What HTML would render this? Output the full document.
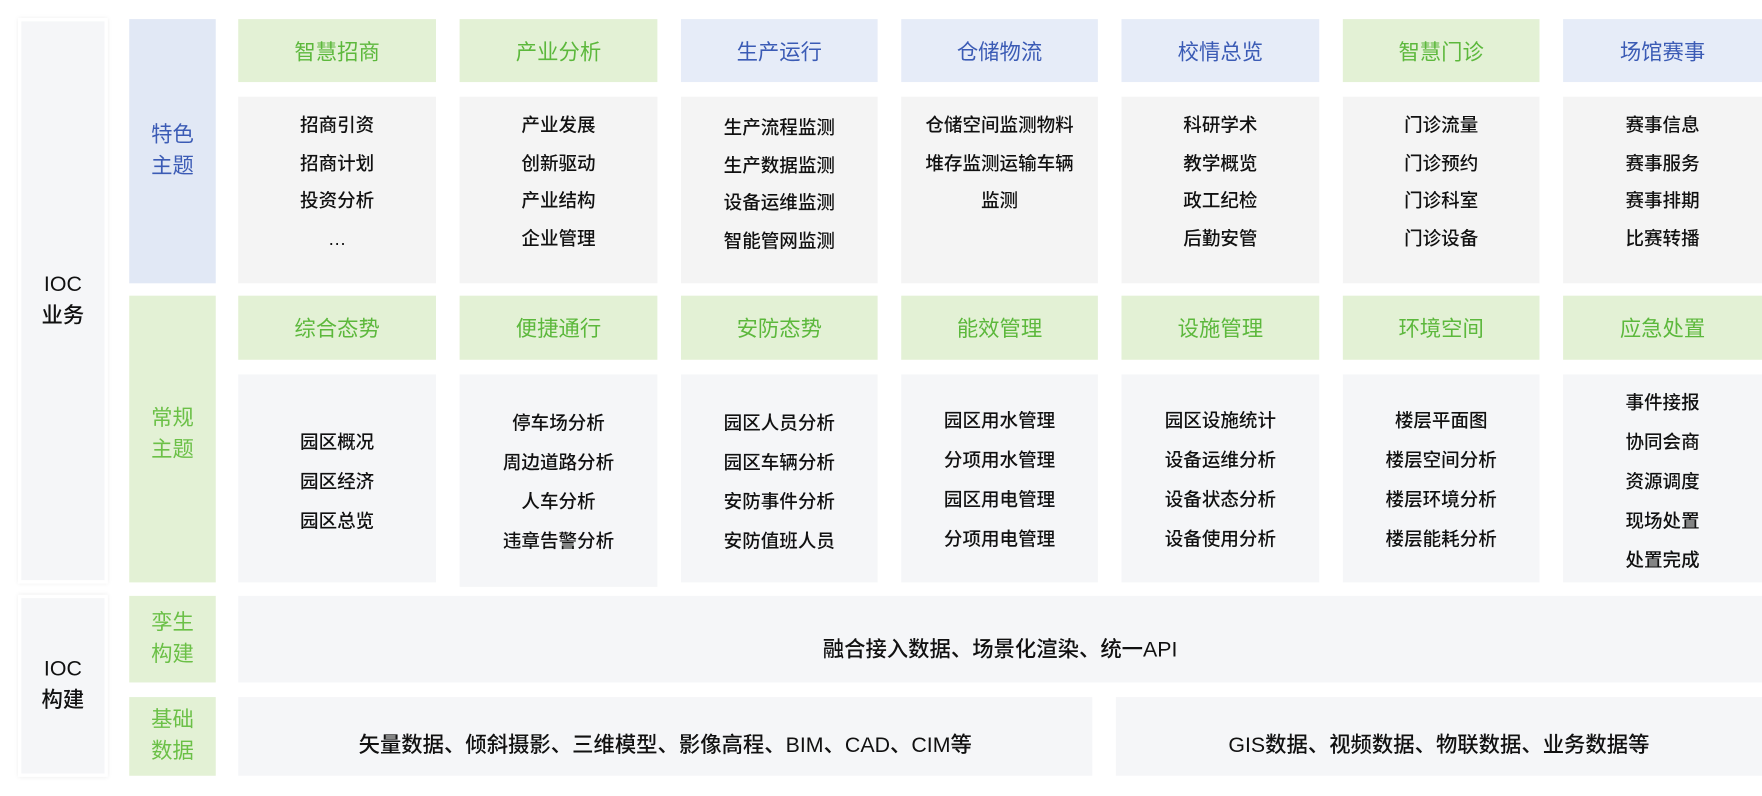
<!DOCTYPE html>
<html><head><meta charset="utf-8"><style>
html,body{margin:0;padding:0;background:#fff;width:1762px;height:796px;overflow:hidden}
#c{position:absolute;left:0;top:0;width:1568px;height:708px;transform:scale(1.12372,1.12429);transform-origin:0 0;font-family:"Liberation Sans","Noto Sans CJK SC",sans-serif}
.b{position:absolute;display:flex;flex-direction:column;align-items:center;justify-content:center;text-align:center;box-sizing:border-box}
.side{background:#f5f6f8;border:3px solid #fff;box-shadow:0 0 4px rgba(0,0,0,.08);font-size:19px;color:#111;line-height:28px;font-weight:500}
.lb{background:#e1e8f5;color:#3b5bb5;font-size:19px;line-height:28px}
.lg{background:#e3f1d5;color:#6bc047;font-size:19px;line-height:28px}
.hb{background:#e6ecf8;color:#3b5bb5;font-size:19px}
.hg{background:#e3f1d5;color:#5cb83c;font-size:19px}
.ct{background:#f4f4f4;color:#111;font-size:16.5px;line-height:33.5px;justify-content:flex-start;padding-top:10px;font-weight:500}
.c2{background:#f5f6f8;color:#111;font-size:16.5px;line-height:35px;font-weight:500}
.big{background:#f5f6f8;color:#111;font-size:19px;font-weight:500}
</style></head><body><div id="c">
<div class="b side" style="left:16px;top:16px;width:80px;height:503px">IOC<br>业务</div>
<div class="b side" style="left:16px;top:529px;width:80px;height:162px">IOC<br>构建</div>
<div class="b lb" style="left:115px;top:17px;width:77px;height:235px">特色<br>主题</div>
<div class="b lg" style="left:115px;top:263px;width:77px;height:255px;justify-content:flex-start;padding-top:96px">常规<br>主题</div>
<div class="b lg" style="left:115px;top:530px;width:77px;height:77px">孪生<br>构建</div>
<div class="b lg" style="left:115px;top:620px;width:77px;height:70px">基础<br>数据</div>

<div class="b hg" style="left:212px;top:17px;width:176px;height:56px">智慧招商</div>
<div class="b hg" style="left:409px;top:17px;width:176px;height:56px">产业分析</div>
<div class="b hb" style="left:606px;top:17px;width:175px;height:56px">生产运行</div>
<div class="b hb" style="left:802px;top:17px;width:175px;height:56px">仓储物流</div>
<div class="b hb" style="left:998px;top:17px;width:176px;height:56px">校情总览</div>
<div class="b hg" style="left:1195px;top:17px;width:175px;height:56px">智慧门诊</div>
<div class="b hb" style="left:1391px;top:17px;width:177px;height:56px">场馆赛事</div>

<div class="b ct" style="left:212px;top:86px;width:176px;height:166px">招商引资<br>招商计划<br>投资分析<br>…</div>
<div class="b ct" style="left:409px;top:86px;width:176px;height:166px">产业发展<br>创新驱动<br>产业结构<br>企业管理</div>
<div class="b ct" style="left:606px;top:86px;width:175px;height:166px;padding-top:12px">生产流程监测<br>生产数据监测<br>设备运维监测<br>智能管网监测</div>
<div class="b ct" style="left:802px;top:86px;width:175px;height:166px">仓储空间监测物料<br>堆存监测运输车辆<br>监测</div>
<div class="b ct" style="left:998px;top:86px;width:176px;height:166px">科研学术<br>教学概览<br>政工纪检<br>后勤安管</div>
<div class="b ct" style="left:1195px;top:86px;width:175px;height:166px">门诊流量<br>门诊预约<br>门诊科室<br>门诊设备</div>
<div class="b ct" style="left:1391px;top:86px;width:177px;height:166px">赛事信息<br>赛事服务<br>赛事排期<br>比赛转播</div>

<div class="b hg" style="left:212px;top:263px;width:176px;height:57px">综合态势</div>
<div class="b hg" style="left:409px;top:263px;width:176px;height:57px">便捷通行</div>
<div class="b hg" style="left:606px;top:263px;width:175px;height:57px">安防态势</div>
<div class="b hg" style="left:802px;top:263px;width:175px;height:57px">能效管理</div>
<div class="b hg" style="left:998px;top:263px;width:176px;height:57px">设施管理</div>
<div class="b hg" style="left:1195px;top:263px;width:175px;height:57px">环境空间</div>
<div class="b hg" style="left:1391px;top:263px;width:177px;height:57px">应急处置</div>

<div class="b c2" style="left:212px;top:333px;width:176px;height:185px;padding-top:8px">园区概况<br>园区经济<br>园区总览</div>
<div class="b c2" style="left:409px;top:333px;width:176px;height:189px;padding-top:4px">停车场分析<br>周边道路分析<br>人车分析<br>违章告警分析</div>
<div class="b c2" style="left:606px;top:333px;width:175px;height:185px;padding-top:8px">园区人员分析<br>园区车辆分析<br>安防事件分析<br>安防值班人员</div>
<div class="b c2" style="left:802px;top:333px;width:175px;height:185px;padding-top:4px">园区用水管理<br>分项用水管理<br>园区用电管理<br>分项用电管理</div>
<div class="b c2" style="left:998px;top:333px;width:176px;height:185px;padding-top:4px">园区设施统计<br>设备运维分析<br>设备状态分析<br>设备使用分析</div>
<div class="b c2" style="left:1195px;top:333px;width:175px;height:185px;padding-top:4px">楼层平面图<br>楼层空间分析<br>楼层环境分析<br>楼层能耗分析</div>
<div class="b c2" style="left:1391px;top:333px;width:177px;height:185px;padding-top:8px">事件接报<br>协同会商<br>资源调度<br>现场处置<br>处置完成</div>

<div class="b big" style="left:212px;top:530px;width:1356px;height:77px;padding-top:16px">融合接入数据、场景化渲染、统一API</div>
<div class="b big" style="left:212px;top:620px;width:760px;height:70px;padding-top:12px">矢量数据、倾斜摄影、三维模型、影像高程、BIM、CAD、CIM等</div>
<div class="b big" style="left:993px;top:620px;width:575px;height:70px;padding-top:12px">GIS数据、视频数据、物联数据、业务数据等</div>
</div></body></html>
